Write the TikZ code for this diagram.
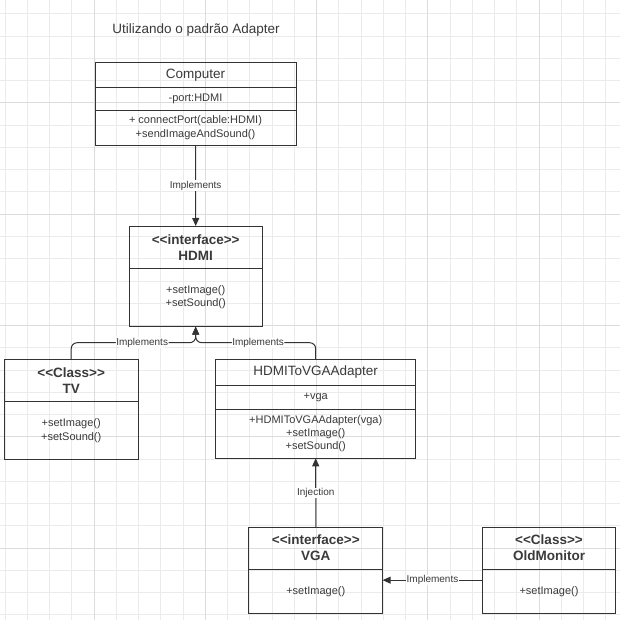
\documentclass[tikz,border=0pt]{standalone}
\usepackage{fontspec}
\setmainfont{Liberation Sans}
\usepackage{tikz}
\usetikzlibrary{arrows.meta}
\usetikzlibrary{positioning}
\definecolor{linec}{HTML}{333333}
\definecolor{txtc}{HTML}{3A3A3A}
\definecolor{gridminor}{HTML}{EBEBEB}
\definecolor{gridmajor}{HTML}{DCDCDC}
\tikzset{>=latex}
\tikzset{umlbox/.style = {draw = linec, line width = 1pt, outer sep = 0, inner sep = 1pt, align = center, text = txtc}}
\tikzset{umlname/.style = {umlbox, font = \fontsize{13.5}{16}\selectfont}}
\tikzset{umlstereo/.style = {umlbox, font = \fontsize{13.5}{16}\selectfont\bfseries}}
\tikzset{umlmember/.style = {umlbox, font = \fontsize{11}{13.3}\selectfont}}
\tikzset{rel/.style = {-{Triangle[length=8pt, width=7pt]}, draw = linec, line width = 1pt}}
\tikzset{rellabel/.style = {fill = white, inner sep = 0.5pt, text = txtc, font = \fontsize{10}{12}\selectfont}}
\newcommand{\stereo}[1]{<\kern0pt<#1>\kern0pt>}

\begin{document}
\begin{tikzpicture}[x=1pt, y=-1pt]
\useasboundingbox (0, 0) rectangle (620, 620);
\fill [white] (0, 0) rectangle (620, 620);
% grid
\foreach \i in {0,...,27} {
  \draw [gridminor, line width = 1pt] (5+22.25*\i, 0) -- ++(0, 620);
  \draw [gridminor, line width = 1pt] (0, 14+22.25*\i) -- ++(620, 0);
}
\foreach \i in {4, 9, 14, 19, 24} {
  \draw [gridmajor, line width = 1pt] (5+22.25*\i, 0) -- ++(0, 620);
  \draw [gridmajor, line width = 1pt] (0, 14+22.25*\i) -- ++(620, 0);
}

\node [text = txtc, font = \fontsize{13.5}{16}\selectfont] (title) at (196, 30) {Utilizando o padrão Adapter};

% Computer
\node [umlname, anchor = north, minimum width = 201, minimum height = 25.4] (comp) at (195.5, 62.3) {Computer};
\node [umlmember, below = 0pt of comp, minimum width = 201, minimum height = 22.6] (comp-attr) {-port:HDMI};
\node [umlmember, below = 0pt of comp-attr, minimum width = 201, minimum height = 35] (comp-ops) {+ connectPort(cable:HDMI)\\+sendImageAndSound()};

% HDMI
\node [umlstereo, anchor = north, minimum width = 133.3, minimum height = 42.3] (hdmi) at (195.7, 226) {\stereo{interface}\\HDMI};
\node [umlmember, below = 0pt of hdmi, minimum width = 133.3, minimum height = 58.4] (hdmi-ops) {+setImage()\\+setSound()};

% TV
\node [umlstereo, anchor = north, minimum width = 133.7, minimum height = 42.4] (tv) at (71.2, 359.3) {\stereo{Class}\\TV};
\node [umlmember, below = 0pt of tv, minimum width = 133.7, minimum height = 57.6] (tv-ops) {+setImage()\\+setSound()};

% HDMIToVGAAdapter
\node [umlname, anchor = north, minimum width = 200, minimum height = 25.7] (adapter) at (315.7, 359.3) {HDMIToVGAAdapter};
\node [umlmember, below = 0pt of adapter, minimum width = 200, minimum height = 24.3] (adapter-attr) {+vga};
\node [umlmember, below = 0pt of adapter-attr, minimum width = 200, minimum height = 49] (adapter-ops) {+HDMIToVGAAdapter(vga)\\+setImage()\\+setSound()};

% VGA
\node [umlstereo, anchor = north, minimum width = 133.7, minimum height = 41.7] (vga) at (315.8, 527.3) {\stereo{interface}\\VGA};
\node [umlmember, below = 0pt of vga, minimum width = 133.7, minimum height = 44.3] (vga-ops) {+setImage()};

% OldMonitor
\node [umlstereo, anchor = north, minimum width = 133.4, minimum height = 41.7] (old) at (549, 527.3) {\stereo{Class}\\OldMonitor};
\node [umlmember, below = 0pt of old, minimum width = 133.4, minimum height = 44.3] (old-ops) {+setImage()};

\coordinate (join) at (195.7, 342.7);

\draw [rel] (comp-ops.south) to node [rellabel, midway] (lab-comp) {Implements} (hdmi.north);
\draw [rel, rounded corners = 6pt] (tv.north) |- node [rellabel, pos = 0.785] (lab-tv) {Implements} (join) -- (hdmi-ops.south);
\draw [rel, rounded corners = 6pt] (adapter.north) |- node [rellabel, pos = 0.74] (lab-adapter) {Implements} (join) -- (hdmi-ops.south);
\draw [rel] (vga.north) to node [rellabel, midway] (lab-vga) {Injection} (adapter-ops.south);
\draw [rel] ([yshift=11pt]old-ops.west) to node [rellabel, midway] (lab-old) {Implements} ([yshift=11pt]vga-ops.east);
\end{tikzpicture}
\end{document}
